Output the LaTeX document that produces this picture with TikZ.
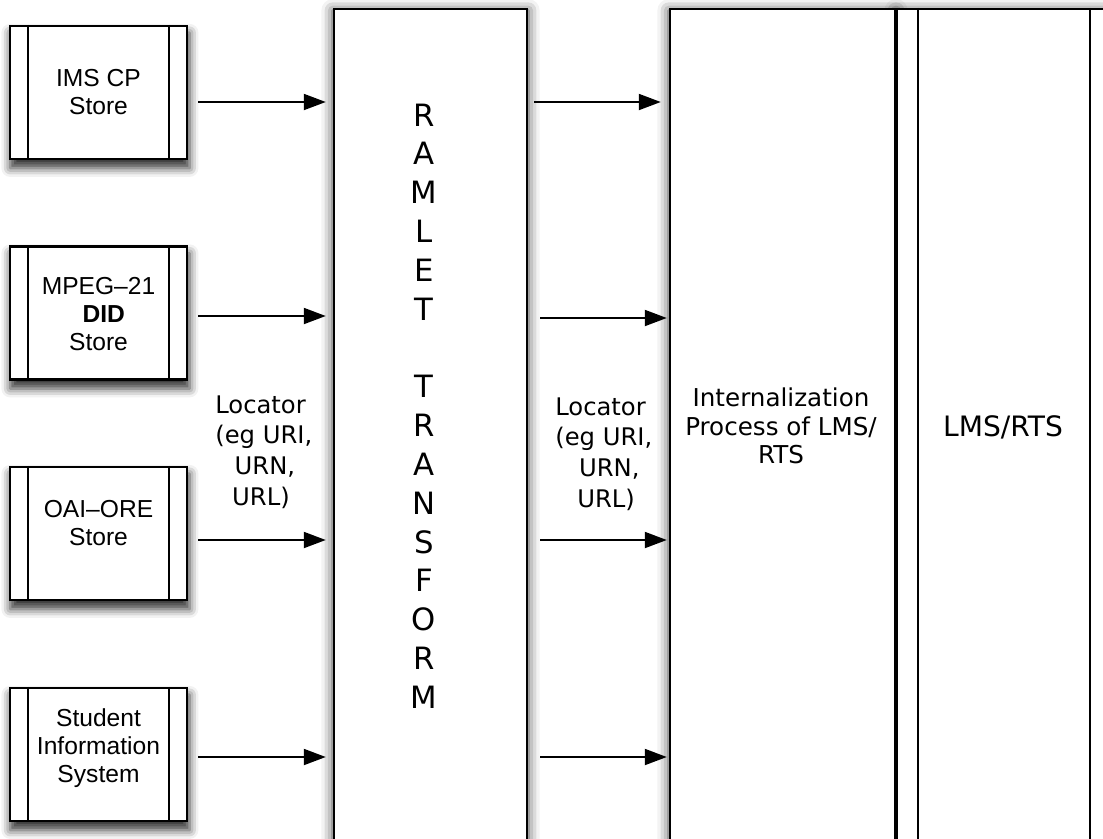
\documentclass[tikz,border=0pt]{standalone}
\usepackage{fontspec}
\setmainfont{DejaVu Sans}
\newfontfamily\helv{Liberation Sans}
\usetikzlibrary{arrows.meta,calc,backgrounds,shadows.blur}

\tikzset{
  box/.style={draw=black, line width=1.4pt, fill=white, inner sep=0pt},
  store/.style={box, minimum width=3.54cm, minimum height=2.66cm},
  tallbox/.style={box, minimum height=17.42cm},
  bar/.style={line width=1.2pt},
  flow/.style={line width=1.1pt, -{Triangle[length=0.44cm, width=0.32cm]}},
  storetext/.style={align=center, font=\helv\fontsize{14}{16}\selectfont},
  labeltext/.style={align=left, anchor=north west, inner sep=0pt, font=\fontsize{13.8}{17.6}\selectfont},
  proctext/.style={align=center, font=\fontsize{14}{16.4}\selectfont},
  smallshadow/.style={blur shadow={shadow xshift=0.8pt, shadow yshift=-4.5pt, shadow blur radius=5pt, shadow opacity=80}},
  bigshadow/.style={blur shadow={shadow xshift=0pt, shadow yshift=-1.5pt, shadow blur radius=6.5pt, shadow opacity=75}},
}

\begin{document}
\begin{tikzpicture}[x=0.02cm, y=-0.02cm]
  \useasboundingbox (0,0) rectangle (1103,839);
  \clip (0,0) rectangle (1103,839);

  % source stores
  \node[store] (ims)  at (98.5,92.5)  {};
  \node[store] (mpeg) at (98.5,313)   {};
  \node[store] (oai)  at (98.5,533.5) {};
  \node[store] (sis)  at (98.5,754.5) {};
  \foreach \n in {ims,mpeg,oai,sis}{
    \draw[bar] ([xshift=0.38cm]\n.north west) -- ([xshift=0.38cm]\n.south west);
    \draw[bar] ([xshift=-0.38cm]\n.north east) -- ([xshift=-0.38cm]\n.south east);
  }
  \node[storetext] (imst)  at (98.5,92)  {IMS CP\\Store};
  \node[storetext] (mpegt) at (98.5,314) {MPEG\textendash21\\\hspace{6pt}\textbf{DID}\\Store};
  \node[storetext] (oait)  at (98.5,523) {OAI\textendash ORE\\Store};
  \node[storetext] (sist)  at (98.5,748) {Student\\Information\\System};

  % transform and target columns
  \node[tallbox, minimum width=3.86cm] (ramlet) at (430.5,444.5) {};
  \node[tallbox, minimum width=4.28cm] (lms)    at (1004,444.5) {};
  \draw[bar] ([xshift=0.44cm]lms.north west) -- ([xshift=0.44cm]lms.south west);
  \draw[bar] ([xshift=-0.44cm]lms.north east) -- ([xshift=-0.44cm]lms.south east);
  \node[tallbox, minimum width=4.5cm] (intern) at (782.5,444.5) {};

  \node[align=center, font=\fontsize{17.5}{22.1}\selectfont] (word) at (424,406)
    {R\\A\\M\\L\\E\\T\\[22.1pt]T\\R\\A\\N\\S\\F\\O\\R\\M};
  \node[proctext] (interntext) at (781,426) {Internalization\\Process of LMS/\\RTS};
  \node[proctext, font=\fontsize{16}{18}\selectfont] (lmstext) at (1003,427) {LMS/RTS};

  \node[labeltext] (loc1) at (215,395) {Locator\\(eg URI,\\\hspace{11pt}URN,\\\hspace{9.6pt}URL)};
  \node[labeltext] (loc2) at (555,397) {Locator\\(eg URI,\\\hspace{13.5pt}URN,\\\hspace{12.5pt}URL)};

  % flows into the transform
  \draw[flow] ($(ims.east)+(10,9.5)$)  -- ($(ims.east -| ramlet.west)+(-7,9.5)$);
  \draw[flow] ($(mpeg.east)+(10,3)$)   -- ($(mpeg.east -| ramlet.west)+(-7,3)$);
  \draw[flow] ($(oai.east)+(10,6.5)$)  -- ($(oai.east -| ramlet.west)+(-7,6.5)$);
  \draw[flow] ($(sis.east)+(10,2.5)$)  -- ($(sis.east -| ramlet.west)+(-7,2.5)$);

  % flows out of the transform
  \draw[flow] ($(ims.east -| ramlet.east)+(6,9.5)$)  -- ($(ims.east -| intern.west)+(-8,9.5)$);
  \draw[flow] ($(mpeg.east -| ramlet.east)+(12,5)$)  -- ($(mpeg.east -| intern.west)+(-2,5)$);
  \draw[flow] ($(oai.east -| ramlet.east)+(12,6.5)$) -- ($(oai.east -| intern.west)+(-2,6.5)$);
  \draw[flow] ($(sis.east -| ramlet.east)+(12,2.5)$) -- ($(sis.east -| intern.west)+(-2,2.5)$);

  % soft drop shadows behind every box
  \begin{scope}[on background layer]
    \foreach \n in {ims,mpeg,oai,sis}
      \path[smallshadow, fill=white] (\n.north west) rectangle (\n.south east);
    \foreach \n in {ramlet,intern,lms}
      \path[bigshadow, fill=white] (\n.north west) rectangle (\n.south east);
  \end{scope}
\end{tikzpicture}
\end{document}
